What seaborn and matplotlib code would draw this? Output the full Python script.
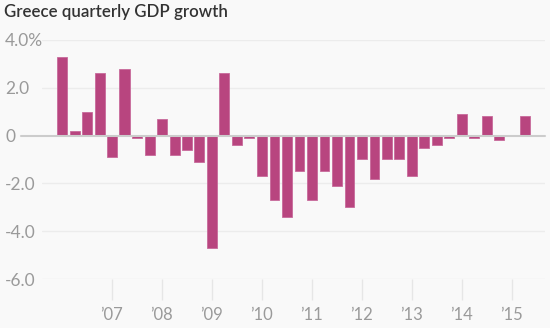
import matplotlib
matplotlib.use("Agg")
import matplotlib.pyplot as plt
import seaborn as sns
import pandas as pd

quarters = [f"{y}Q{q}" for y in range(2006, 2016) for q in range(1, 5)][:38]
growth = [3.3, 0.2, 1.0, 2.6, -0.9, 2.8, -0.1, -0.8, 0.7, -0.8, -0.6, -1.1,
          -4.7, 2.6, -0.4, -0.1, -1.7, -2.7, -3.4, -1.5, -2.7, -1.5, -2.1, -3.0,
          -1.0, -1.8, -1.0, -1.0, -1.7, -0.5, -0.4, -0.1, 0.9, -0.1, 0.8, -0.2,
          0.0, 0.8]
year_labels = ["\u201907", "\u201908", "\u201909", "\u201910", "\u201911",
               "\u201912", "\u201913", "\u201914", "\u201915"]
y_ticks = [4, 2, 0, -2, -4, -6]
y_labels = ["4.0%", "2.0", "0", "-2.0", "-4.0", "-6.0"]

df = pd.DataFrame({"quarter": quarters, "growth": growth})

bg = "#f9f9f9"
sns.set_theme(style="white")
plt.rcParams["font.family"] = ["Lato", "DejaVu Sans"]

fig = plt.figure(figsize=(5.5, 3.28), dpi=100, facecolor=bg)
ax = fig.add_axes([42 / 550, (328 - 279) / 328, (545 - 42) / 550, (279 - 40) / 328])
ax.set_facecolor(bg)

sns.barplot(data=df, x="quarter", y="growth", color="#b8457f", width=0.8,
            saturation=1, edgecolor="#c86a9b", linewidth=0.6, ax=ax, zorder=3)

ax.set_xlim(-1.6, 38.64)
ax.set_ylim(-6, 4)

for s in ax.spines.values():
    s.set_visible(False)

for t in y_ticks:
    if t == 0:
        continue
    ax.axhline(t, color="#ececec", lw=1, zorder=1)
ax.plot([-3.3, 38.64], [0, 0], color="#cccccc", lw=1.5, zorder=4, clip_on=False)

ax.set_yticks(y_ticks)
ax.set_yticklabels(y_labels)
ax.tick_params(axis="y", length=0, labelsize=12.5, labelcolor="#9a9a9a", pad=0)
for lab in ax.get_yticklabels():
    lab.set_horizontalalignment("left")
    lab.set_x(-37 / 503)

xt = [4 + 4 * i for i in range(len(year_labels))]
ax.set_xticks(xt)
ax.set_xticklabels(year_labels)
ax.tick_params(axis="x", length=15, width=1, color="#e6e6e6", direction="out",
               labelsize=12, labelcolor="#9a9a9a", pad=5, bottom=True)
ax.set_xlabel("")
ax.set_ylabel("")

fig.text(4 / 550, 1 - 12 / 328, "Greece quarterly GDP growth", fontsize=12.2,
         fontweight="semibold", color="#333333", ha="left", va="center")

fig.savefig("out.png", dpi=100, facecolor=bg)
